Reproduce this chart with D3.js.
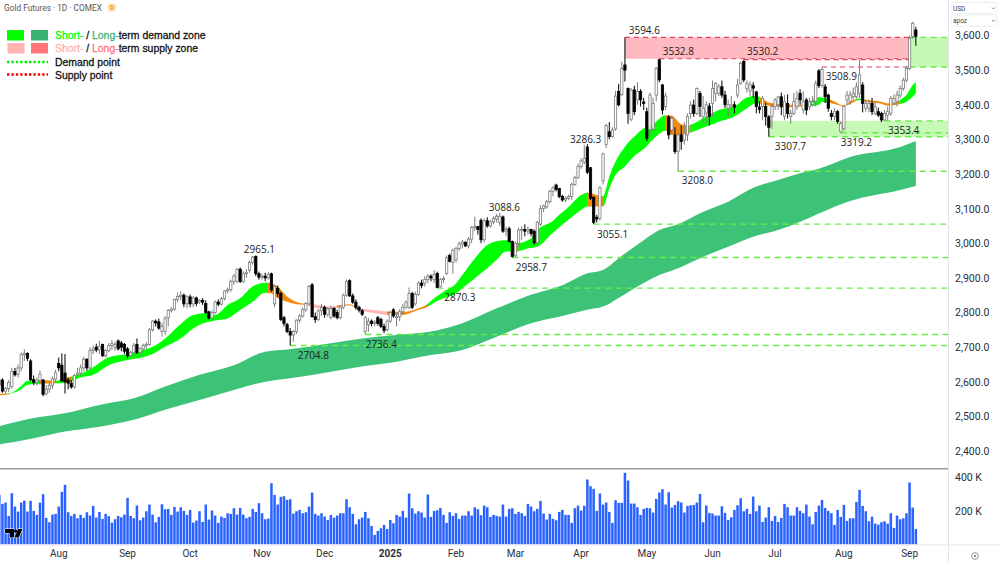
<!DOCTYPE html>
<html>
<head>
<meta charset="utf-8">
<title>Gold Futures 1D</title>
<script src="https://cdn.jsdelivr.net/npm/d3@7"></script>
<style>
html,body{margin:0;padding:0;background:#fff;overflow:hidden}
svg{display:block}
</style>
</head>
<body>
<svg id="chart" width="1000" height="562"></svg>
<script>
// Daily candles, oldest first
const opens = [
2590,2605,2573,2580,2586,2630,2622,2640,2678,2682,
2660,2606,2598,2604,2605,2566,2578,2590,2608,2653,
2648,2625,2605,2596,2585,2620,2625,2640,2665,2640,
2690,2700,2692,2708,2675,2690,2705,2700,2718,2712,
2708,2695,2675,2685,2708,2685,2695,2705,2708,2750,
2775,2773,2745,2745,2785,2806,2810,2838,2846,2850,
2825,2845,2825,2842,2830,2835,2826,2802,2784,2800,
2830,2824,2840,2862,2866,2890,2890,2925,2890,2912,
2922,2945,2962,2912,2902,2905,2900,2912,2825,2870,
2855,2785,2765,2745,2735,2745,2778,2790,2808,2826,
2880,2788,2780,2805,2815,2795,2785,2812,2800,2785,
2815,2850,2892,2848,2830,2815,2805,2745,2765,2775,
2768,2785,2780,2760,2750,2775,2808,2785,2788,2802,
2815,2815,2855,2825,2852,2885,2885,2895,2905,2895,
2913,2875,2895,2913,2965,2945,2952,2985,2998,3003,
2992,3012,3045,3048,3066,3010,3065,3050,3062,3070,
3060,3076,3035,3042,3005,2965,3000,3038,3040,3035,
3040,3035,3002,3055,3100,3105,3120,3150,3168,3158,
3135,3125,3130,3135,3170,3190,3222,3235,3278,3218,
3133,3075,3072,3180,3285,3322,3308,3330,3438,3430,
3515,3447,3358,3443,3414,3438,3408,3380,3328,3330,
3428,3530,3457,3395,3365,3327,3313,3265,3313,3298,
3313,3375,3399,3375,3433,3366,3376,3396,3404,3433,
3433,3452,3428,3390,3395,3400,3428,3462,3525,3447,
3440,3455,3437,3393,3395,3395,3365,3366,3395,3400,
3423,3366,3404,3366,3375,3394,3433,3385,3414,3394,
3400,3409,3498,3455,3452,3428,3375,3366,3380,3322,
3332,3414,3409,3423,3423,3433,3457,3390,3390,3404,
3375,3380,3375,3356,3370,3375,3405,3409,3428,3447,
3471,3505,3597,3616];
const highs = [
2608,2610,2585,2605,2640,2640,2650,2685,2694,2685,
2665,2618,2612,2632,2608,2590,2597,2615,2635,2670,
2682,2680,2612,2605,2622,2640,2650,2672,2668,2700,
2705,2710,2718,2710,2695,2712,2720,2715,2722,2718,
2712,2700,2690,2712,2725,2700,2710,2715,2755,2778,
2780,2782,2770,2790,2810,2815,2840,2858,2862,2855,
2850,2852,2848,2846,2838,2842,2835,2805,2806,2835,
2838,2845,2865,2872,2895,2912,2928,2930,2920,2925,
2950,2963,2965.1,2918,2912,2915,2916,2915,2880,2878,
2860,2790,2770,2755,2750,2780,2795,2815,2830,2880,
2885,2800,2810,2825,2820,2815,2820,2815,2808,2820,
2855,2895,2896,2855,2838,2820,2810,2790,2785,2780,
2778,2790,2785,2768,2780,2805,2812,2800,2810,2825,
2835,2872,2860,2860,2890,2895,2905,2912,2910,2922,
2918,2900,2905,2965,2970,2985,2990,3005,3010,3005,
3018,3050,3077,3050,3072,3072,3075,3068,3078,3085,
3088.6,3080,3048,3048,3008,3005,3045,3050,3055,3048,
3042,3040,3065,3110,3112,3125,3155,3165,3172,3160,
3140,3135,3140,3175,3195,3230,3245,3284,3286.3,3220,
3135,3082,3165,3262,3345,3350,3335,3440,3460,3525,
3594.6,3450,3448,3455,3465,3445,3420,3392,3435,3420,
3510,3532.8,3460,3435,3370,3368,3335,3320,3340,3350,
3375,3410,3415,3450,3440,3425,3410,3405,3470,3465,
3460,3470,3440,3415,3425,3410,3475,3525,3530.2,3470,
3468,3465,3440,3410,3425,3405,3370,3400,3420,3425,
3435,3428,3430,3385,3435,3440,3445,3440,3420,3420,
3425,3470,3503,3508.9,3460,3432,3385,3390,3385,3352,
3400,3440,3440,3450,3465,3530,3465,3415,3415,3420,
3410,3392,3380,3385,3395,3425,3430,3440,3455,3478,
3512,3600,3640,3625];
const lows = [
2575,2568,2565,2570,2580,2615,2612,2630,2660,2660,
2602,2590,2588,2592,2558,2560,2568,2580,2598,2630,
2600,2566,2578,2580,2580,2612,2618,2630,2632,2635,
2680,2685,2680,2672,2670,2685,2692,2690,2690,2688,
2680,2668,2672,2678,2680,2675,2685,2695,2705,2745,
2760,2750,2730,2735,2760,2800,2805,2830,2835,2815,
2812,2815,2815,2818,2825,2822,2795,2780,2780,2795,
2818,2820,2835,2855,2860,2880,2885,2885,2885,2900,
2915,2938,2905,2895,2895,2890,2895,2860,2815,2845,
2775,2760,2740,2704.8,2715,2738,2770,2785,2802,2820,
2785,2770,2775,2790,2785,2788,2780,2785,2780,2780,
2810,2845,2845,2825,2808,2800,2790,2736.4,2745,2760,
2760,2762,2755,2740,2745,2770,2785,2760,2775,2795,
2810,2810,2810,2820,2848,2870,2875,2885,2890,2885,
2870.3,2872,2885,2908,2945,2912,2945,2978,2985,2990,
2985,3000,3035,3025,3000,3002,3045,3045,3055,3060,
3050,3030,3020,3002,2958.7,2960,2990,3010,3020,3025,
3020,2995,2995,3050,3090,3100,3115,3135,3150,3130,
3120,3118,3125,3125,3165,3185,3215,3228,3200,3125,
3055.1,3060,3065,3170,3275,3300,3305,3325,3395,3425,
3467,3345,3352,3370,3400,3395,3385,3295,3310,3325,
3410,3465,3372,3385,3300,3320,3258,3208,3270,3285,
3295,3360,3365,3370,3365,3350,3345,3340,3365,3410,
3425,3420,3390,3365,3385,3375,3420,3458,3465,3435,
3425,3420,3375,3375,3355,3340,3307.7,3330,3385,3385,
3370,3355,3360,3346,3370,3385,3400,3375,3370,3385,
3395,3395,3448,3450,3405,3380,3355,3355,3345,3319.2,
3325,3400,3400,3415,3418,3420,3378,3380,3378,3370,
3370,3365,3350,3353.4,3355,3368,3400,3395,3420,3440,
3465,3500,3590,3570];
const closes = [
2605,2573,2580,2598,2630,2620,2640,2678,2682,2668,
2606,2598,2604,2622,2564,2578,2590,2608,2626,2640,
2602,2600,2596,2585,2618,2625,2640,2665,2640,2690,
2695,2692,2702,2675,2690,2705,2710,2708,2695,2700,
2688,2675,2685,2705,2685,2695,2705,2708,2750,2775,
2770,2755,2760,2782,2806,2810,2838,2846,2850,2825,
2845,2825,2842,2826,2835,2830,2800,2784,2800,2830,
2824,2840,2862,2866,2890,2905,2925,2890,2912,2915,
2945,2960,2912,2902,2905,2900,2910,2865,2875,2855,
2780,2768,2745,2735,2745,2778,2790,2808,2826,2875,
2788,2780,2805,2815,2795,2810,2812,2790,2785,2815,
2850,2890,2848,2830,2815,2807,2795,2785,2775,2768,
2772,2768,2760,2748,2775,2800,2790,2788,2802,2815,
2830,2855,2815,2852,2885,2878,2895,2905,2900,2910,
2872,2895,2898,2958,2948,2980,2985,2998,3003,2992,
3012,3045,3048,3040,3010,3065,3050,3062,3072,3078,
3078,3035,3040,3005,2962,3000,3038,3040,3035,3040,
3028,3002,3060,3100,3108,3120,3150,3160,3155,3135,
3125,3130,3135,3170,3190,3222,3238,3245,3205,3130,
3060,3070,3160,3258,3340,3308,3327,3425,3400,3505,
3500,3375,3442,3380,3438,3414,3404,3303,3428,3404,
3505,3472,3385,3425,3313,3361,3265,3313,3294,3317,
3366,3399,3375,3447,3395,3390,3400,3366,3447,3462,
3452,3428,3400,3400,3400,3393,3457,3520,3472,3462,
3458,3448,3395,3386,3418,3366,3335,3395,3414,3422,
3394,3409,3375,3375,3409,3418,3414,3409,3385,3409,
3408,3461,3455,3502,3423,3390,3366,3380,3352,3346,
3395,3428,3428,3433,3452,3486,3404,3404,3404,3380,
3394,3370,3356,3375,3380,3418,3418,3428,3447,3471,
3505,3592,3635,3597];

// Daily contract volume, thousands
const volumes = [
296,242,250,170,306,226,196,250,262,196,
260,200,176,250,300,158,132,178,182,226,
314,356,192,170,182,156,176,158,192,172,
230,160,194,152,182,168,130,150,170,162,
178,278,170,156,232,144,160,198,238,178,
132,164,240,210,212,176,224,196,222,200,
176,206,130,142,198,134,238,148,202,172,
128,166,158,186,182,216,178,218,178,156,
164,212,194,246,186,150,154,366,296,238,
284,288,266,270,184,198,206,186,192,226,
310,182,172,186,166,146,
176,160,172,186,186,270,222,182,120,150,
160,194,156,110,56,80,96,116,92,146,
126,176,166,200,160,304,216,184,198,190,
160,298,164,200,204,218,176,128,192,170,
186,152,172,172,198,172,222,210,174,232,
222,164,176,170,166,238,166,212,216,182,
194,186,170,242,226,198,212,260,184,148,
182,152,144,194,206,176,176,128,216,232,
202,230,388,348,332,200,304,238,250,194,
128,264,248,248,428,382,244,244,222,176,
212,218,216,190,272,310,
330,238,312,220,236,258,250,190,230,234,
236,250,302,132,232,188,184,172,172,228,
188,146,162,206,234,276,198,212,182,286,
198,232,134,160,222,140,170,134,158,242,
222,172,172,222,200,186,238,166,120,194,
232,266,218,200,186,116,206,164,236,140,
156,156,254,326,230,198,138,166,124,118,
132,138,124,186,98,172,150,156,186,370,
220,92];

// Short-term ribbon, sampled at these bars
const shortBars = [0,3,7,9,13,18,21,26,30,35,41,46,49,53,58,62,66,69,73,77,81,85,87,89,92,95,98,102,106,109,112,115,120,124,129,133,137,139,142,146,148,152,156,159,162,165,170,172,177,179,182,186,188,193,195,197,200,203,206,209,213,215,218,220,226,230,235,239,242,247,250,253,256,259,262,263,266,270,272,275,277,282,284,286,288,290,292,293];
const shortUpper = [2565,2566,2588,2603,2605,2603,2610,2623,2642,2671,2680,2692,2701,2725,2767,2793,2798,2793,2822,2841,2875,2886,2884,2875,2846,2830,2825,2822,2817,2822,2823.5,2812,2807,2803,2802,2809,2825,2841,2860,2884,2908,2956,2995,3006,3009,3000,3014,3038,3065,3082,3105,3139,3146,3136,3192,3236,3279,3308,3332,3344,3370,3368,3344,3341,3366,3385,3395,3421,3425,3404,3404,3400,3399,3409,3422,3421,3414,3398,3409,3418,3414,3409,3404,3404,3414,3428,3457,3466];
const shortLower = [2561,2564,2578,2591,2594,2596,2596,2612,2620,2648,2663,2671,2680,2701,2725,2754,2771,2777,2783,2807,2831,2857,2855,2841,2831,2824,2822,2812,2807,2817,2821,2807,2798,2793,2793,2804,2817,2828,2841,2855,2870,2899,2928,2952,2976,2976,2987,2990,3030,3046,3068,3096,3106,3106,3158,3197,3222,3252,3272,3300,3325,3313,3313,3317,3337,3351,3366,3390,3404,3396,3395,3393,3395,3396,3400,3409,3404,3396,3402,3414,3409,3403,3397,3399,3402,3409,3423,3433];

// Ribbon colour changes: the state holds from each start bar to the next
const stateStarts = [0,3,13,18,21,23,86,98,108,115,124,137,164,166,188,193,213,221,243,258,265,274,276,288];
const stateNames = ["turn","demand","turn","demand","turn","demand","turn","supply","turn","supply","turn","demand","turn","demand","turn","demand","turn","demand","turn","demand","turn","demand","turn","demand"];

// Long-term ribbon
const longBars = [0,11,21,32,43,53,64,75,85,93,106,116,127,138,148,159,170,180,188,193,198,206,211,217,224,233,241,249,256,262,272,288,293];
const longUpper = [2472,2495,2509,2533,2552,2586,2620,2648,2687,2694,2711,2725,2735,2745,2769,2812,2851,2879,2913,2923,2957,3009,3038,3055,3087,3120,3160,3183,3202,3215,3249,3278,3295];
const longLower = [2419,2437,2456,2470,2490,2519,2547,2576,2600,2610,2629,2644,2658,2677,2692,2730,2769,2790,2808,2817,2842,2885,2908,2928,2957,2990,3019,3038,3062,3086,3122,3154,3165];

// Swing pivots named on the chart
const pivotValues = [2965.1,2704.8,2736.4,2870.3,3088.6,2958.7,3286.3,3055.1,3594.6,3532.8,3208.0,3530.2,3307.7,3508.9,3319.2,3353.4];
const pivotBars   = [82,93,117,140,160,164,188,190,200,211,217,238,246,263,269,283];
const pivotDx = [-12,7.5,0.4,7,-11,3.4,-17.4,3.4,3.8,3.4,3.7,3.2,6,3.7,0,3.5];
const pivotDy = [-5.5,10.3,9.5,9.5,-5,9.4,-5,9.8,-7.4,-7.8,9.5,-8.7,9.3,9.6,10,10];

// Horizontal levels and the zones between them
const breakoutBar = 291;
const demandLevels = [3594.6,3508.9,3353.4,3319.2,3307.7,3208.0,3055.1,2958.7,2870.3,2736.4,2704.8];
const demandStarts = [291,291,283,269,246,217,190,164,140,117,93];
const supplyLevels = [3594.6,3532.8,3530.2,3508.9];
const supplyStarts = [200,211,238,263];
const supplyZoneTop = 3594.6, supplyZoneBottom = 3532.8, supplyZoneStart = 200;
const upperDemandTop = 3594.6, upperDemandBottom = 3508.9, upperDemandStart = 291;
const lowerDemandTop = 3353.4, lowerDemandBottom = 3307.7, lowerDemandStart = 246;

const priceTicks = d3.range(2400, 3601, 100);
const volumeTicks = [200, 400];
const monthBars = [19,41,61,84,104,125,146,165,186,207,228,248,270,291];
const monthLabels = ["Aug","Sep","Oct","Nov","Dec","2025","Feb","Mar","Apr","May","Jun","Jul","Aug","Sep"];

const legendDemand = [["Short-","#00ff00"],[" / ","#111"],["Long-","#3cb371"],["term demand zone","#111"]];
const legendSupply = [["Short-","#ffb3b3"],[" / ","#111"],["Long-","#ff7777"],["term supply zone","#111"]];

const colors = {demand:"#00ff00", turn:"#f28a0f", supply:"#ffb8b8", long:"#3cc377",
  up:"#7d7d7d", down:"#000", vol:"#2962ff", demandLine:"#66ee44", supplyLine:"#e8425c",
  zonePink:"#ffb9c1", zoneGreen:"#c6f8b6", axis:"#2a2e39", grid:"#e3e5ea"};

const plotRight = 948;
const svg = d3.select("#chart");
const n = closes.length;

const x = d3.scaleBand().domain(d3.range(n)).range([-2.26, 917.4]).paddingInner(0.2).paddingOuter(0.1);
const xc = i => x(i) + x.bandwidth() / 2;
const y = d3.scaleLinear().domain([2400, 3600]).range([451, 35.5]);
const yVol = d3.scaleLinear().domain([0, 400]).range([544.3, 477.5]);

svg.append("defs").append("clipPath").attr("id", "plot")
  .append("rect").attr("width", plotRight).attr("height", 468);

const plot = svg.append("g").attr("clip-path", "url(#plot)");

// Long-term ribbon sits at the back
const longArea = d3.area().x((d, i) => xc(longBars[i])).y0((d, i) => y(longLower[i])).y1((d, i) => y(longUpper[i])).curve(d3.curveMonotoneX);
plot.append("path").attr("d", longArea(longBars)).attr("fill", colors.long);

// Zones
function zone(start, endX, top, bottom, fill) {
  plot.append("rect").attr("x", xc(start)).attr("width", endX - xc(start))
    .attr("y", y(top)).attr("height", y(bottom) - y(top)).attr("fill", fill);
}
zone(supplyZoneStart, xc(breakoutBar), supplyZoneTop, supplyZoneBottom, colors.zonePink);
zone(upperDemandStart, plotRight, upperDemandTop, upperDemandBottom, colors.zoneGreen);
zone(lowerDemandStart, plotRight, lowerDemandTop, lowerDemandBottom, colors.zoneGreen);

// Dashed level lines from each pivot to the right edge
plot.selectAll(".demand").data(demandLevels).join("line").attr("class", "demand")
  .attr("x1", (d, i) => xc(demandStarts[i])).attr("x2", plotRight)
  .attr("y1", d => y(d)).attr("y2", d => y(d))
  .attr("stroke", colors.demandLine).attr("stroke-width", 1.4).attr("stroke-dasharray", "6 4.5");
plot.selectAll(".supply").data(supplyLevels).join("line").attr("class", "supply")
  .attr("x1", (d, i) => xc(supplyStarts[i])).attr("x2", xc(breakoutBar))
  .attr("y1", d => y(d)).attr("y2", d => y(d))
  .attr("stroke", colors.supplyLine).attr("stroke-width", 1.1).attr("stroke-dasharray", "5 4");

// Short-term ribbon, one clipped copy per colour state
const shortArea = d3.area().x((d, i) => xc(shortBars[i])).y0((d, i) => y(shortLower[i])).y1((d, i) => y(shortUpper[i])).curve(d3.curveMonotoneX);
const shortPath = shortArea(shortBars);
const defs = svg.select("defs");
stateStarts.forEach((start, i) => {
  const end = i + 1 < stateStarts.length ? stateStarts[i + 1] : n - 1;
  defs.append("clipPath").attr("id", "state" + i).append("rect")
    .attr("x", xc(start) - 0.2).attr("width", xc(end) - xc(start) + 0.4)
    .attr("y", 0).attr("height", 468);
  plot.append("path").attr("d", shortPath).attr("fill", colors[stateNames[i]])
    .attr("clip-path", "url(#state" + i + ")");
});

// Candles
const candles = plot.append("g").selectAll("g").data(d3.range(n)).join("g");
candles.append("line")
  .attr("x1", i => xc(i)).attr("x2", i => xc(i))
  .attr("y1", i => y(highs[i])).attr("y2", i => y(lows[i]))
  .attr("stroke", i => closes[i] >= opens[i] ? colors.up : colors.down).attr("stroke-width", 1);
candles.append("rect")
  .attr("x", i => xc(i) - 1.15).attr("width", 2.3)
  .attr("y", i => y(Math.max(opens[i], closes[i])))
  .attr("height", i => Math.max(0.8, Math.abs(y(opens[i]) - y(closes[i]))))
  .attr("fill", i => closes[i] >= opens[i] ? "#fff" : colors.down)
  .attr("stroke", i => closes[i] >= opens[i] ? colors.up : colors.down).attr("stroke-width", 0.8);

// Pivot labels
const fmtPivot = d3.format(".1f");
plot.append("g").selectAll("text").data(pivotValues).join("text")
  .attr("x", (d, i) => xc(pivotBars[i]) + pivotDx[i])
  .attr("y", (d, i) => y(d) + pivotDy[i])
  .attr("dy", "0.36em")
  .attr("font-family", "'Open Sans'").attr("font-size", 10).attr("fill", "#222")
  .text(d => fmtPivot(d));

// Volume pane
svg.append("g").selectAll("rect").data(d3.range(n)).join("rect")
  .attr("x", i => x(i)).attr("width", x.bandwidth())
  .attr("y", i => yVol(volumes[i])).attr("height", i => yVol(0) - yVol(volumes[i]))
  .attr("fill", colors.vol);

// Pane frames
svg.append("line").attr("x1", 0).attr("x2", plotRight).attr("y1", 468.8).attr("y2", 468.8).attr("stroke", "#9b9ea3").attr("stroke-width", 1.4);
svg.append("line").attr("x1", plotRight + 0.5).attr("x2", plotRight + 0.5).attr("y1", 0).attr("y2", 562).attr("stroke", colors.grid);
svg.append("line").attr("x1", 0).attr("x2", 1000).attr("y1", 545).attr("y2", 545).attr("stroke", colors.grid);

// Axes
function styleAxis(g) {
  g.select(".domain").remove();
  g.selectAll("line").remove();
  g.selectAll("text").attr("font-family", "Roboto").attr("font-size", 10.5).attr("fill", colors.axis);
}
svg.append("g").attr("transform", `translate(${plotRight + 7},0)`)
  .call(d3.axisRight(y).tickValues(priceTicks).tickFormat(d3.format(",.1f")).tickSize(0).tickPadding(0))
  .call(styleAxis);
svg.append("g").attr("transform", `translate(${plotRight + 7},0)`)
  .call(d3.axisRight(yVol).tickValues(volumeTicks).tickFormat(d => d + " K").tickSize(0).tickPadding(0))
  .call(styleAxis);
svg.append("g").attr("transform", "translate(0,546)")
  .call(d3.axisBottom(x).tickValues(monthBars).tickFormat((d) => monthLabels[monthBars.indexOf(d)]).tickSize(0).tickPadding(4))
  .call(styleAxis)
  .call(g => g.selectAll("text").attr("font-size", 10).attr("font-weight", d => monthLabels[monthBars.indexOf(d)] === "2025" ? 700 : 400));

// Title and badge
svg.append("text").attr("x", 4).attr("y", 10.5).attr("font-family", "Roboto").attr("font-size", 8.3).attr("fill", "#555")
  .text("Gold Futures · 1D · COMEX");
svg.append("circle").attr("cx", 112).attr("cy", 7.5).attr("r", 4.8).attr("fill", "#ffe9d2");
svg.append("text").attr("x", 112).attr("y", 10).attr("text-anchor", "middle").attr("font-family", "Roboto")
  .attr("font-size", 7).attr("font-weight", 700).attr("fill", "#f28a0f").text("D");

// Legend
const legend = svg.append("g").attr("font-family", "'Liberation Sans'").attr("font-size", 11.4);
[[7, 30, "#00ff00"], [31, 30, "#3cb371"], [7.5, 43, "#ffb3b3"], [31, 43, "#ff7777"]].forEach(s => {
  legend.append("rect").attr("x", s[0]).attr("y", s[1]).attr("width", 17).attr("height", 10.5).attr("fill", s[2]);
});
function legendLine(parts, yPos) {
  const t = legend.append("text").attr("transform", `translate(55,${yPos}) scale(0.915,1)`)
    .attr("stroke-width", 0.3).attr("xml:space", "preserve");
  parts.forEach(p => t.append("tspan").attr("fill", p[1]).attr("stroke", p[1]).text(p[0]));
}
legendLine(legendDemand, 39);
legendLine(legendSupply, 52);
legendLine([["Demand point", "#111"]], 66);
legendLine([["Supply point", "#111"]], 79);
legend.append("line").attr("x1", 7).attr("x2", 48).attr("y1", 62).attr("y2", 62).attr("stroke", "#00ee00").attr("stroke-width", 2.4).attr("stroke-dasharray", "2.4 2");
legend.append("line").attr("x1", 7).attr("x2", 48).attr("y1", 74.5).attr("y2", 74.5).attr("stroke", "#ee0000").attr("stroke-width", 2.4).attr("stroke-dasharray", "2.4 2");

// Currency and unit selectors
[["USD", 2.5], ["apoz", 15]].forEach(b => {
  svg.append("rect").attr("x", 951).attr("y", b[1]).attr("width", 46).attr("height", 11).attr("rx", 2).attr("fill", "#fff").attr("stroke", "#eceef2");
  svg.append("text").attr("x", 953).attr("y", b[1] + 8).attr("font-family", "Roboto").attr("font-size", 6.5).attr("fill", "#444").text(b[0]);
  svg.append("path").attr("d", `M992 ${b[1] + 5}l1.5 1.5l1.5 -1.5`).attr("fill", "none").attr("stroke", "#666").attr("stroke-width", 0.8);
});

// Settings gear
svg.append("circle").attr("cx", 975).attr("cy", 556).attr("r", 3.4).attr("fill", "none").attr("stroke", "#888").attr("stroke-width", 0.9);
svg.append("circle").attr("cx", 975).attr("cy", 556).attr("r", 1.2).attr("fill", "#888");

// Watermark mark in the volume pane
svg.append("path").attr("d", "M5 529h9v8.5h-4.5v-4.5h-4.5zM18 529h4.5l-3.6 8.5h-4.5z")
  .attr("fill", "#000").attr("stroke", "#fff").attr("stroke-width", 1).attr("paint-order", "stroke");
svg.append("circle").attr("cx", 15.6).attr("cy", 531).attr("r", 1.5).attr("fill", "#000");
</script>
</body>
</html>
